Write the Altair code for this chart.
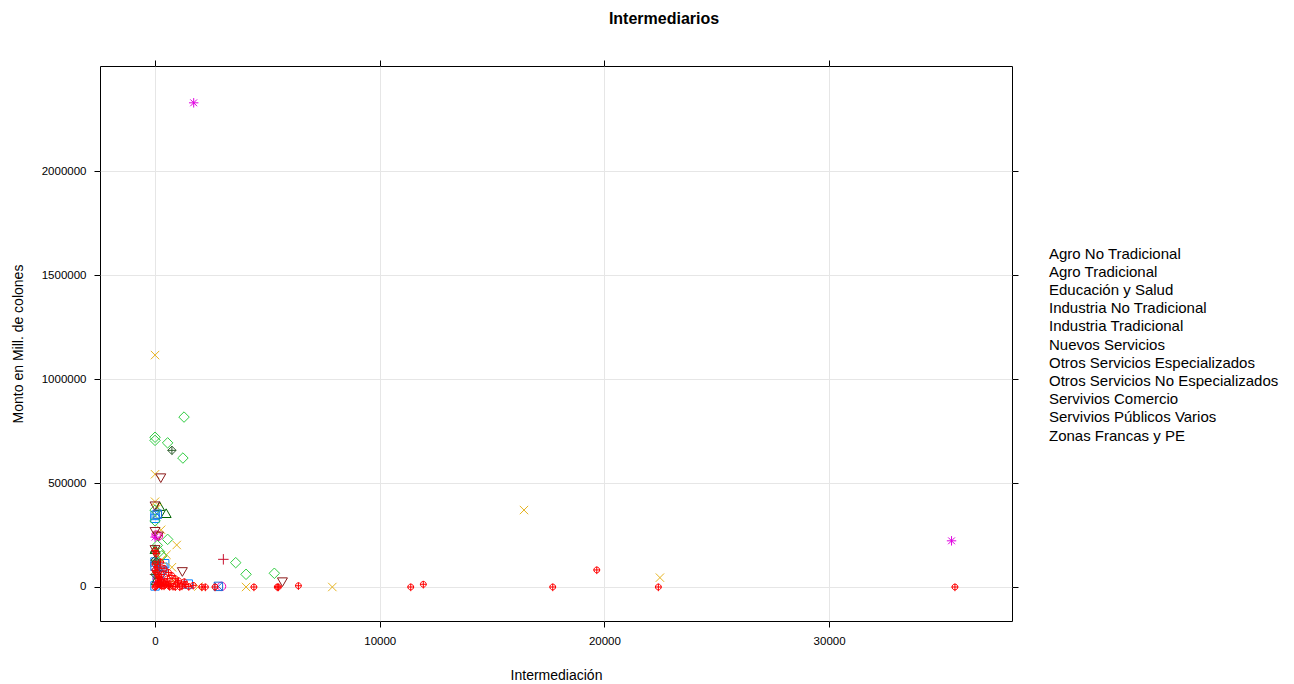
import altair as alt
import pandas as pd

groups = [
    "Agro No Tradicional", "Agro Tradicional", "Educación y Salud",
    "Industria No Tradicional", "Industria Tradicional", "Nuevos Servicios",
    "Otros Servicios Especializados", "Otros Servicios No Especializados",
    "Servivios Comercio", "Servivios Públicos Varios", "Zonas Francas y PE",
]
colors = ["#0080FF", "#FF00B0", "#006400", "#C8102E", "#E6B422", "#2ECC40",
          "#8B1A1A", "#1E6FD9", "#E000E0", "#2E5E2E", "#FF0000"]
shapes = [
    "M-0.8,-0.8H0.8V0.8H-0.8Z",
    "M-0.8,0A0.8,0.8,0,1,1,0.8,0A0.8,0.8,0,1,1,-0.8,0Z",
    "M0,-0.9L0.95,0.75L-0.95,0.75Z",
    "M-1,0L1,0M0,-1L0,1",
    "M-0.8,-0.8L0.8,0.8M-0.8,0.8L0.8,-0.8",
    "M0,-1L1,0L0,1L-1,0Z",
    "M0,0.9L0.95,-0.75L-0.95,-0.75Z",
    "M-0.8,-0.8H0.8V0.8H-0.8ZM-0.8,-0.8L0.8,0.8M-0.8,0.8L0.8,-0.8",
    "M-0.9,0L0.9,0M0,-0.9L0,0.9M-0.65,-0.65L0.65,0.65M-0.65,0.65L0.65,-0.65",
    "M0,-0.8L0.8,0L0,0.8L-0.8,0ZM-0.8,0L0.8,0M0,-0.8L0,0.8",
    "M-0.55,0A0.55,0.55,0,1,1,0.55,0A0.55,0.55,0,1,1,-0.55,0ZM-0.65,0L0.65,0M0,-0.65L0,0.8",
]

# (x = Intermediación, y = Monto) per group
agro_no_trad_x = [0, 0, 430, 350, 100, 0, 1480, 200, 0]
agro_no_trad_y = [344000, 330000, 112000, 95000, 40000, 5000, 14000, 60000, 120000]
agro_trad_x = [50, 150, 100, 300, 2960]
agro_trad_y = [250000, 245000, 40000, 20000, 3000]
educ_x = [200, 495, 0, 50]
educ_y = [387000, 353000, 180000, 30000]
ind_no_trad_x = [3040, 0, 100, 200]
ind_no_trad_y = [133000, 60000, 20000, 90000]
ind_trad_x = [0, 0, 0, 270, 965, 510, 750, 1930, 4050, 7890, 16420, 22470, 600, 300, 100, 800]
ind_trad_y = [1115000, 542000, 410000, 275000, 202000, 155000, 95000, 2000, 0, 0,
              370000, 45000, 10000, 130000, 380000, 30000]
nuevos_x = [1290, 0, 0, 560, 1240, 0, 560, 3590, 4050, 5310, 200, 100, 300, 0]
nuevos_y = [817000, 720000, 705000, 693000, 620000, 318000, 229000, 117000, 61000,
            66000, 170000, 200000, 150000, 370000]
otros_esp_x = [255, 0, 0, 150, 1215, 5670, 0, 100]
otros_esp_y = [525000, 390000, 267000, 245000, 74000, 25000, 180000, 60000]
otros_no_esp_x = [2820, 0, 300, 100]
otros_no_esp_y = [3000, 100000, 80000, 350000]
comercio_x = [1720, 35450, 0]
comercio_y = [2328000, 222000, 240000]
publicos_x = [750, 0, 0, 50, 0]
publicos_y = [657000, 129000, 170000, 120000, 60000]
zonas_x = [2080, 2240, 2670, 4400, 5440, 6380, 11380, 11940, 17700, 19660, 22400, 35600, 5490,
           0, 50, 100, 150, 200, 250, 300, 350, 400, 500, 600, 700, 800, 0, 100, 0, 50,
           150, 200, 250, 300, 450, 550, 650, 900, 1100, 0, 50,
           1000, 1200, 1350, 900, 1500, 1700, 750, 600, 400, 250, 1050, 1300]
zonas_y = [0, 0, 0, 0, 0, 6000, 0, 13000, 0, 82000, 0, 0, 0,
           0, 5000, 15000, 30000, 45000, 10000, 60000, 20000, 5000, 25000, 8000, 15000, 3000,
           80000, 95000, 110000, 70000, 50000, 20000, 35000, 5000, 12000, 40000, 2000, 1000,
           500, 175000, 160000,
           20000, 5000, 12000, 40000, 2000, 8000, 55000, 70000, 90000, 120000, 30000, 25000]

series = [
    (agro_no_trad_x, agro_no_trad_y), (agro_trad_x, agro_trad_y), (educ_x, educ_y),
    (ind_no_trad_x, ind_no_trad_y), (ind_trad_x, ind_trad_y), (nuevos_x, nuevos_y),
    (otros_esp_x, otros_esp_y), (otros_no_esp_x, otros_no_esp_y),
    (comercio_x, comercio_y), (publicos_x, publicos_y), (zonas_x, zonas_y),
]
rows = []
for g, (xs, ys) in zip(groups, series):
    for xv, yv in zip(xs, ys):
        rows.append({"Sector": g, "Intermediación": xv, "Monto": yv})
df = pd.DataFrame(rows)

FONT = "Liberation Sans"
xscale = alt.Scale(domain=[-2450, 38140], nice=False, zero=False)
yscale = alt.Scale(domain=[-163500, 2505000], nice=False, zero=False)

points = alt.Chart(df).mark_point(filled=False, size=110, strokeWidth=1, opacity=1).encode(
    x=alt.X("Intermediación:Q", scale=xscale,
            axis=alt.Axis(title="Intermediación", values=[0, 10000, 20000, 30000],
                          format="d", grid=True, gridColor="#E6E6E6", domain=False,
                          tickColor="black", tickSize=6, labelFont=FONT, labelFontSize=11.5,
                          labelColor="black", titleFont=FONT, titleFontSize=14,
                          titleFontWeight="normal", titleColor="black", titlePadding=22,
                          labelPadding=8)),
    y=alt.Y("Monto:Q", scale=yscale,
            axis=alt.Axis(title="Monto en Mill. de colones",
                          values=[0, 500000, 1000000, 1500000, 2000000],
                          format="d", grid=True, gridColor="#E6E6E6", domain=False,
                          tickColor="black", tickSize=6, labelFont=FONT, labelFontSize=11.5,
                          labelColor="black", titleFont=FONT, titleFontSize=14,
                          titleFontWeight="normal", titleColor="black", titlePadding=16,
                          labelPadding=8)),
    color=alt.Color("Sector:N", scale=alt.Scale(domain=groups, range=colors),
                    legend=alt.Legend(title=None, orient="none", legendX=934, legendY=180,
                                      symbolSize=0, symbolStrokeWidth=0, symbolOpacity=0,
                                      labelFont=FONT, labelFontSize=15, labelColor="black",
                                      labelOffset=0, rowPadding=2.2, labelLimit=400)),
    shape=alt.Shape("Sector:N", scale=alt.Scale(domain=groups, range=shapes), legend=None),
)

frame = alt.Chart(df).mark_point(opacity=0).encode(
    x=alt.X("Intermediación:Q", scale=xscale,
            axis=alt.Axis(orient="top", title=None, values=[0, 10000, 20000, 30000],
                          labels=False, grid=False, domain=False, tickColor="black",
                          tickSize=6)),
    y=alt.Y("Monto:Q", scale=yscale,
            axis=alt.Axis(orient="right", title=None,
                          values=[0, 500000, 1000000, 1500000, 2000000],
                          labels=False, grid=False, domain=False, tickColor="black",
                          tickSize=6)),
)

chart = alt.layer(points, frame).resolve_axis(x="independent", y="independent").properties(
    width=912, height=555,
    title=alt.TitleParams("Intermediarios", font=FONT, fontSize=16, fontWeight="bold",
                          color="black", anchor="middle", dx=108, offset=33),
    autosize=alt.AutoSizeParams(type="none"),
    padding={"left": 100, "top": 66, "right": 282, "bottom": 63},
).configure(background="white").configure_view(stroke="black", strokeWidth=1)

chart.save("out.html", embed_options={"renderer": "svg", "actions": False})
